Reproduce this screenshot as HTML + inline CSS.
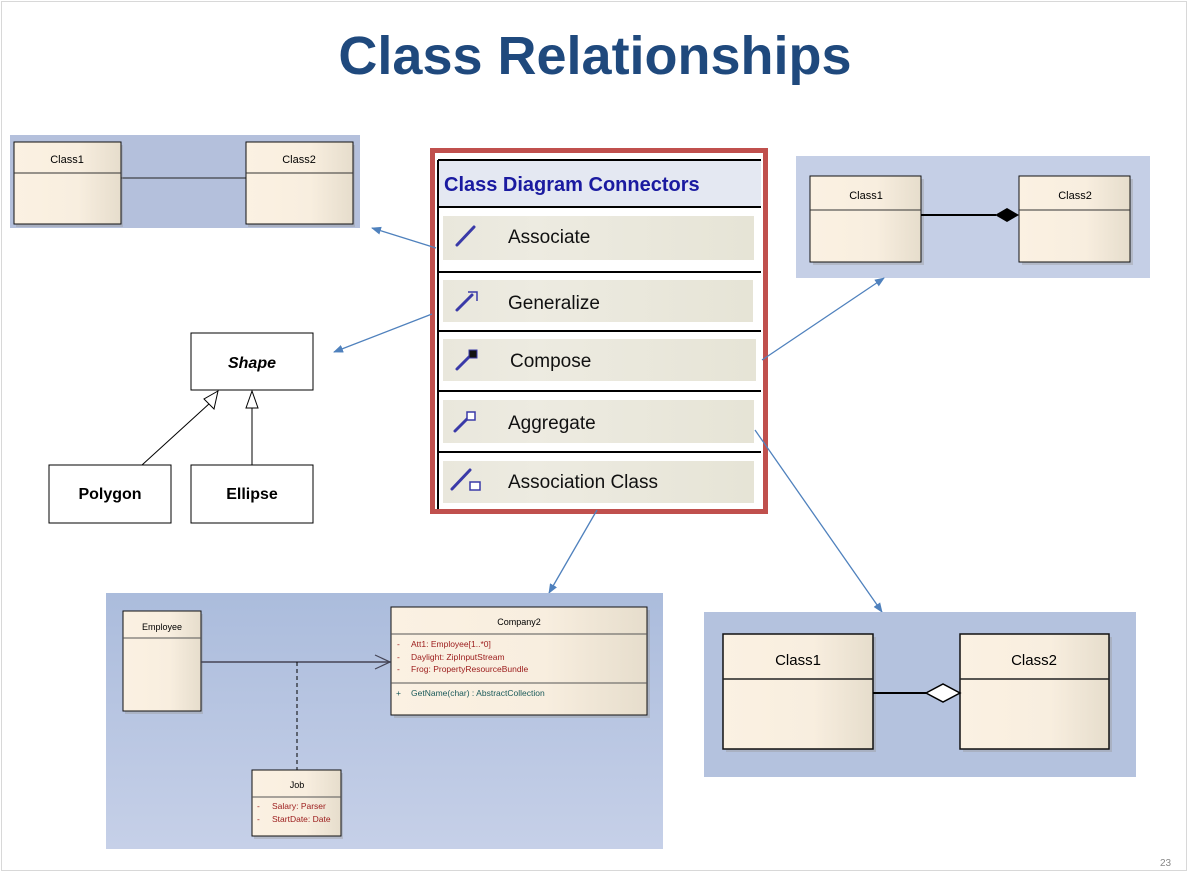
<!DOCTYPE html>
<html><head><meta charset="utf-8"><style>
html,body{margin:0;padding:0;background:#fff}
svg{display:block}
text{font-family:"Liberation Sans",sans-serif}
</style></head><body>
<svg width="1188" height="872" viewBox="0 0 1188 872" xmlns="http://www.w3.org/2000/svg">
<defs>
<linearGradient id="cb" x1="0" x2="1" y1="0" y2="0"><stop offset="0" stop-color="#fbf1e2"/><stop offset="0.6" stop-color="#f8eedf"/><stop offset="1" stop-color="#e6ddcc"/></linearGradient>
<linearGradient id="bl" x1="0" x2="0" y1="0" y2="1"><stop offset="0" stop-color="#abbcdc"/><stop offset="1" stop-color="#c6d0e8"/></linearGradient>
<linearGradient id="it" x1="0" x2="1"><stop offset="0" stop-color="#e9e7dc"/><stop offset="0.3" stop-color="#edebe1"/><stop offset="1" stop-color="#e6e4d6"/></linearGradient>
<marker id="ar" markerWidth="10" markerHeight="10" refX="9" refY="5" orient="auto" markerUnits="userSpaceOnUse"><path d="M0,1 L10,5 L0,9 Z" fill="#4f81bd"/></marker>
</defs>
<rect x="1.5" y="1.5" width="1185" height="869" fill="#fff" stroke="#d8d8d8"/>
<text x="595" y="74" text-anchor="middle" font-size="54" font-weight="bold" fill="#1f497d">Class Relationships</text>

<!-- top-left -->
<rect x="10" y="135" width="350" height="93" fill="#b4c0dc"/>
<line x1="121" y1="178" x2="246" y2="178" stroke="#222" stroke-width="1"/>
<rect x="16" y="145" width="107" height="82" fill="#999" opacity="0.4"/>
<rect x="14" y="142" width="107" height="82" fill="url(#cb)" stroke="#111"/>
<line x1="14" y1="173" x2="121" y2="173" stroke="#333"/>
<text x="67" y="163" text-anchor="middle" font-size="11">Class1</text>
<rect x="248" y="145" width="107" height="82" fill="#999" opacity="0.4"/>
<rect x="246" y="142" width="107" height="82" fill="url(#cb)" stroke="#111"/>
<line x1="246" y1="173" x2="353" y2="173" stroke="#333"/>
<text x="299" y="163" text-anchor="middle" font-size="11">Class2</text>

<!-- top-right -->
<rect x="796" y="156" width="354" height="122" fill="#c5cfe6"/>
<rect x="813" y="179" width="111" height="86" fill="#999" opacity="0.4"/>
<rect x="810" y="176" width="111" height="86" fill="url(#cb)" stroke="#111"/>
<line x1="810" y1="210" x2="921" y2="210" stroke="#333"/>
<text x="866" y="199" text-anchor="middle" font-size="11">Class1</text>
<rect x="1022" y="179" width="111" height="86" fill="#999" opacity="0.4"/>
<rect x="1019" y="176" width="111" height="86" fill="url(#cb)" stroke="#111"/>
<line x1="1019" y1="210" x2="1130" y2="210" stroke="#333"/>
<text x="1075" y="199" text-anchor="middle" font-size="11">Class2</text>
<line x1="921" y1="215" x2="996" y2="215" stroke="#000" stroke-width="2"/>
<path d="M995,215 L1007,208 L1019,215 L1007,222 Z" fill="#000"/>

<!-- shape hierarchy -->
<rect x="191" y="333" width="122" height="57" fill="#fff" stroke="#000"/>
<text x="252" y="368" text-anchor="middle" font-size="16" font-weight="bold" font-style="italic">Shape</text>
<rect x="49" y="465" width="122" height="58" fill="#fff" stroke="#000"/>
<text x="110" y="499" text-anchor="middle" font-size="16" font-weight="bold">Polygon</text>
<rect x="191" y="465" width="122" height="58" fill="#fff" stroke="#000"/>
<text x="252" y="499" text-anchor="middle" font-size="16" font-weight="bold">Ellipse</text>
<line x1="142" y1="465" x2="210" y2="403" stroke="#000"/>
<path d="M218,391 L204,399 L214,409 Z" fill="#fff" stroke="#000"/>
<line x1="252" y1="465" x2="252" y2="408" stroke="#000"/>
<path d="M252,391 L246,408 L258,408 Z" fill="#fff" stroke="#000"/>

<!-- center panel -->
<rect x="432.5" y="150.5" width="333" height="361" fill="#fff" stroke="#c0504d" stroke-width="5"/>
<rect x="438" y="160" width="323" height="47" fill="#e4e8f2"/>
<line x1="438" y1="160" x2="761" y2="160" stroke="#000" stroke-width="2"/>
<text x="444" y="191" font-size="20" font-weight="bold" fill="#1a1aa0">Class Diagram Connectors</text>
<g stroke="#000" stroke-width="2">
<line x1="438" y1="207" x2="761" y2="207"/><line x1="438" y1="272" x2="761" y2="272"/>
<line x1="438" y1="331" x2="761" y2="331"/><line x1="438" y1="391" x2="761" y2="391"/>
<line x1="438" y1="452" x2="761" y2="452"/>
<line x1="438" y1="160" x2="438" y2="509"/>
</g>
<rect x="443" y="216" width="311" height="44" fill="url(#it)"/>
<rect x="443" y="280" width="310" height="42" fill="url(#it)"/>
<rect x="443" y="339" width="313" height="42" fill="url(#it)"/>
<rect x="443" y="400" width="311" height="43" fill="url(#it)"/>
<rect x="443" y="461" width="311" height="42" fill="url(#it)"/>
<g font-size="19" fill="#111">
<text x="508" y="243">Associate</text>
<text x="508" y="309">Generalize</text>
<text x="510" y="367">Compose</text>
<text x="508" y="429">Aggregate</text>
<text x="508" y="488">Association Class</text>
</g>
<g stroke="#3a3aa8" stroke-width="3" stroke-linecap="round">
<line x1="457" y1="245" x2="474" y2="227"/>
<line x1="457" y1="310" x2="472" y2="295"/>
<line x1="457" y1="369" x2="470" y2="356"/>
<line x1="455" y1="431" x2="468" y2="418"/>
<line x1="452" y1="489" x2="470" y2="470"/>
</g>
<path d="M468,292 L477,292 L477,301" fill="none" stroke="#3a3aa8" stroke-width="1.5"/>
<rect x="469" y="350" width="8" height="8" fill="#111" stroke="#3a3aa8"/>
<rect x="467" y="412" width="8" height="8" fill="#fff" stroke="#3a3aa8" stroke-width="1.5"/>
<rect x="470" y="482" width="10" height="8" fill="#fff" stroke="#3a3aa8" stroke-width="1.5"/>

<!-- arrows -->
<g stroke="#4f81bd" stroke-width="1.3" fill="none" marker-end="url(#ar)">
<line x1="436" y1="248" x2="372" y2="228"/>
<line x1="432" y1="314" x2="334" y2="352"/>
<line x1="762" y1="360" x2="884" y2="278"/>
<line x1="755" y1="430" x2="882" y2="612"/>
<line x1="597" y1="510" x2="549" y2="593"/>
</g>

<!-- bottom-left -->
<rect x="106" y="593" width="557" height="256" fill="url(#bl)"/>
<rect x="125" y="614" width="78" height="100" fill="#999" opacity="0.4"/>
<rect x="123" y="611" width="78" height="100" fill="url(#cb)" stroke="#111"/>
<line x1="123" y1="638" x2="201" y2="638" stroke="#555"/>
<text x="162" y="630" text-anchor="middle" font-size="9">Employee</text>
<line x1="201" y1="662" x2="390" y2="662" stroke="#445" stroke-width="1.5"/>
<path d="M375,655 L390,662 L375,669" fill="none" stroke="#445" stroke-width="1.2"/>
<line x1="297" y1="662" x2="297" y2="770" stroke="#000" stroke-dasharray="4,3"/>
<rect x="394" y="610" width="256" height="108" fill="#999" opacity="0.4"/>
<rect x="391" y="607" width="256" height="108" fill="url(#cb)" stroke="#111"/>
<line x1="391" y1="634" x2="647" y2="634" stroke="#555"/>
<line x1="391" y1="683" x2="647" y2="683" stroke="#555"/>
<text x="519" y="625" text-anchor="middle" font-size="9">Company2</text>
<g font-size="8.5" fill="#9b1a1a">
<text x="397" y="647">-</text><text x="411" y="647">Att1:  Employee[1..*0]</text>
<text x="397" y="660">-</text><text x="411" y="660">Daylight:  ZipInputStream</text>
<text x="397" y="672">-</text><text x="411" y="672">Frog:  PropertyResourceBundle</text>
</g>
<text x="396" y="696" font-size="8.5" fill="#1a5a5a">+</text>
<text x="411" y="696" font-size="8.5" fill="#1a5a5a">GetName(char) : AbstractCollection</text>
<rect x="254" y="773" width="89" height="66" fill="#999" opacity="0.4"/>
<rect x="252" y="770" width="89" height="66" fill="url(#cb)" stroke="#111"/>
<line x1="252" y1="797" x2="341" y2="797" stroke="#555"/>
<text x="297" y="788" text-anchor="middle" font-size="9">Job</text>
<g font-size="8.5" fill="#9b1a1a">
<text x="257" y="809">-</text><text x="272" y="809">Salary:  Parser</text>
<text x="257" y="822">-</text><text x="272" y="822">StartDate:  Date</text>
</g>

<!-- bottom-right -->
<rect x="704" y="612" width="432" height="165" fill="#b4c2de"/>
<rect x="726" y="637" width="150" height="115" fill="#999" opacity="0.4"/>
<rect x="723" y="634" width="150" height="115" fill="url(#cb)" stroke="#111" stroke-width="1.5"/>
<line x1="723" y1="679" x2="873" y2="679" stroke="#222" stroke-width="1.5"/>
<text x="798" y="665" text-anchor="middle" font-size="15">Class1</text>
<rect x="963" y="637" width="149" height="115" fill="#999" opacity="0.4"/>
<rect x="960" y="634" width="149" height="115" fill="url(#cb)" stroke="#111" stroke-width="1.5"/>
<line x1="960" y1="679" x2="1109" y2="679" stroke="#222" stroke-width="1.5"/>
<text x="1034" y="665" text-anchor="middle" font-size="15">Class2</text>
<line x1="873" y1="693" x2="926" y2="693" stroke="#000" stroke-width="2"/>
<path d="M926,693 L943,684 L960,693 L943,702 Z" fill="#fff" stroke="#000" stroke-width="1.5"/>

<text x="1160" y="866" font-size="10" fill="#888">23</text>
</svg>
</body></html>
